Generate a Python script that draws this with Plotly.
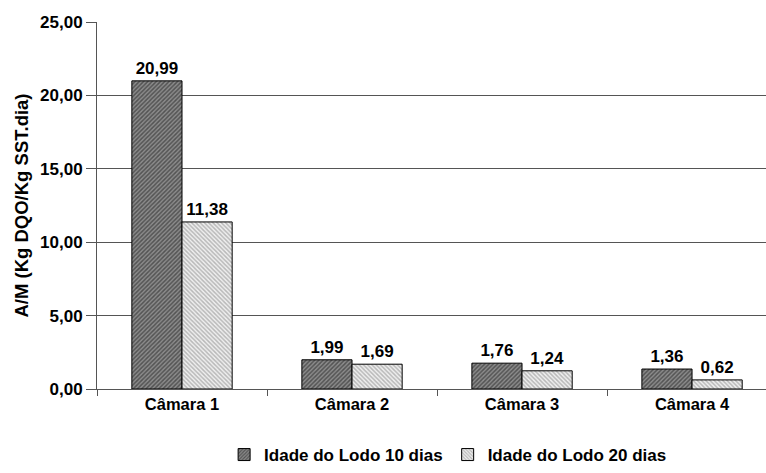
import plotly.graph_objects as go

categories = ["Câmara 1", "Câmara 2", "Câmara 3", "Câmara 4"]
lodo_10 = [20.99, 1.99, 1.76, 1.36]
lodo_20 = [11.38, 1.69, 1.24, 0.62]
y_ticks = [0, 5, 10, 15, 20, 25]

FONT = "Liberation Sans, Arial, sans-serif"


def br_num(v):
    # Portuguese decimal comma, two decimals
    return f"{v:.2f}".replace(".", ",")


fig = go.Figure()
fig.add_trace(go.Bar(
    x=categories, y=lodo_10, name="<b>Idade do Lodo 10 dias</b>",
    marker=dict(color="#808080", line=dict(color="black", width=1),
                pattern=dict(shape="/", fgcolor="#1a1a1a", bgcolor="#8c8c8c",
                             size=3, solidity=0.5)),
    texttemplate="<b>%{y:.2f}</b>", textposition="outside",
    textfont=dict(size=17, color="black", family=FONT), cliponaxis=False,
))
fig.add_trace(go.Bar(
    x=categories, y=lodo_20, name="<b>Idade do Lodo 20 dias</b>",
    marker=dict(color="#cccccc", line=dict(color="black", width=1),
                pattern=dict(shape="\\", fgcolor="#808080", bgcolor="#f0f0f0",
                             size=3, solidity=0.5)),
    texttemplate="<b>%{y:.2f}</b>", textposition="outside",
    textfont=dict(size=17, color="black", family=FONT), cliponaxis=False,
))

fig.update_layout(
    width=766, height=473,
    margin=dict(l=97, r=0, t=22, b=84),
    paper_bgcolor="white", plot_bgcolor="white",
    separators=",.",
    barmode="group", bargap=0.41, bargroupgap=0,
    font=dict(family=FONT, color="black", size=16),
    showlegend=True,
    legend=dict(orientation="h", xref="container", x=0.585, xanchor="center",
                yref="container", y=0.0, yanchor="bottom",
                font=dict(size=17, family=FONT), itemwidth=30,
                traceorder="normal"),
)
fig.update_xaxes(
    range=[-0.5, 3.435], showline=True, linecolor="#555555", linewidth=1,
    ticks="outside", tickson="boundaries", ticklen=6, tickcolor="#555555",
    tickfont=dict(size=16.5, family=FONT), showgrid=False,
    tickprefix="<b>", ticksuffix="</b>",
)
fig.update_yaxes(
    range=[0, 25], tickvals=y_ticks,
    ticktext=[f"<b>{br_num(v)}</b>" for v in y_ticks],
    showline=True, linecolor="#555555", linewidth=1,
    ticks="outside", ticklen=10, tickcolor="#555555",
    showgrid=True, gridcolor="#555555", gridwidth=1, zeroline=False,
    tickfont=dict(size=17, family=FONT),
    title=dict(text="<b>A/M (Kg DQO/Kg SST.dia)</b>", font=dict(size=18.5, family=FONT),
               standoff=6),
)

fig.write_html("out.html")
